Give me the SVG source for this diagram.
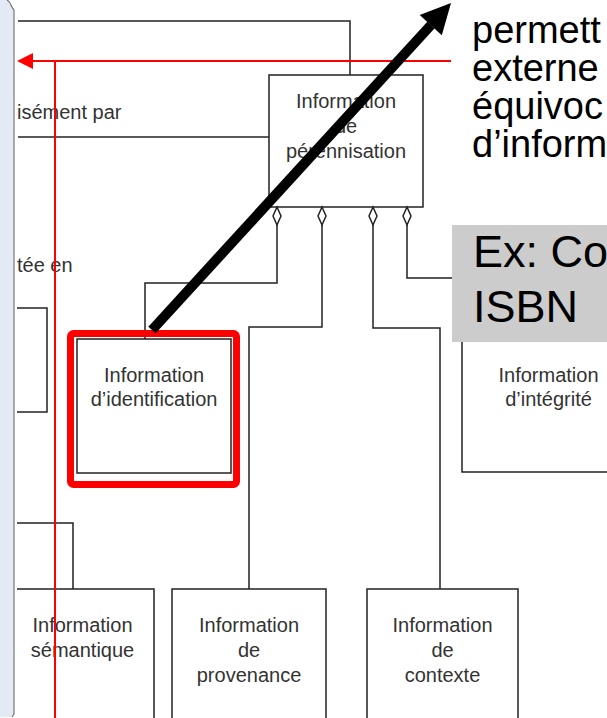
<svg xmlns="http://www.w3.org/2000/svg" width="607" height="718" viewBox="0 0 607 718">
<style>
.ln{fill:none;stroke:#222;stroke-width:1.5}
.bx{fill:#fff;stroke:#222;stroke-width:1.5}
.lbl{font-family:"Liberation Sans",Arial,sans-serif;font-size:20px;fill:#333;text-anchor:middle}
.side{font-family:"Liberation Sans",Arial,sans-serif;font-size:20px;fill:#333}
.big{font-family:"Liberation Sans",Arial,sans-serif;font-size:38px;fill:#000}
.ex{font-family:"Liberation Sans",Arial,sans-serif;font-size:45px;fill:#000}
.red{fill:none;stroke:#ff0000;stroke-width:2}
.dia{fill:#fff;stroke:#222;stroke-width:1.5}
</style>
<rect width="607" height="718" fill="#fff"/>
<g id="connectors">
<path class="ln" d="M18,21 H350 V75"/>
<path class="ln" d="M18,137 H269"/>
<path class="ln" d="M17,308 H47 V412 H17"/>
<path class="ln" d="M17,523 H73 V589"/>
<path class="ln" d="M277,225 V283 H145 V339"/>
<path class="ln" d="M322,225 V327 H249 V589"/>
<path class="ln" d="M373,225 V328 H440 V589"/>
<path class="ln" d="M407,225 V278 H470"/>
</g>
<g id="side-texts">
<text class="side" x="17" y="119">isément par</text>
<text class="side" x="17" y="272">tée en</text>
</g>
<g id="node-perennisation">
<rect class="bx" x="269" y="75" width="154" height="132"/>
<text class="lbl" x="346" y="108">Information</text>
<text class="lbl" x="346" y="133">de</text>
<text class="lbl" x="346" y="158">pérennisation</text>
<path class="dia" d="M277,207 L281,216 L277,225 L273,216 Z"/>
<path class="dia" d="M322,207 L326,216 L322,225 L318,216 Z"/>
<path class="dia" d="M373,207 L377,216 L373,225 L369,216 Z"/>
<path class="dia" d="M407,207 L411,216 L407,225 L403,216 Z"/>
</g>
<g id="node-identification">
<rect class="bx" x="77" y="339" width="154" height="134"/>
<text class="lbl" x="154" y="382">Information</text>
<text class="lbl" x="154" y="406">d’identification</text>
<rect x="70.5" y="333.5" width="166" height="151" rx="3" fill="none" stroke="#ff0000" stroke-width="7"/>
</g>
<g id="node-integrite">
<rect class="bx" x="462" y="335" width="180" height="137"/>
<text class="lbl" x="548.5" y="382">Information</text>
<text class="lbl" x="548.5" y="406">d’intégrité</text>
</g>
<g id="node-semantique">
<path class="ln" d="M17,589 H154 V720"/>
<text class="lbl" x="82.5" y="632">Information</text>
<text class="lbl" x="82.5" y="657">sémantique</text>
</g>
<g id="node-provenance">
<rect class="bx" x="172" y="589" width="154" height="140"/>
<text class="lbl" x="249" y="632">Information</text>
<text class="lbl" x="249" y="657">de</text>
<text class="lbl" x="249" y="682">provenance</text>
</g>
<g id="node-contexte">
<rect class="bx" x="367" y="589" width="151" height="140"/>
<text class="lbl" x="442.5" y="632">Information</text>
<text class="lbl" x="442.5" y="657">de</text>
<text class="lbl" x="442.5" y="682">contexte</text>
</g>
<g id="example-note">
<rect x="452" y="225" width="160" height="117" fill="#cccccc"/>
<text class="ex" x="473" y="267">Ex: Co</text>
<text class="ex" x="473" y="322">ISBN</text>
</g>
<g id="callout-text">
<text class="big" x="472" y="43">permett</text>
<text class="big" x="472" y="81">externe</text>
<text class="big" x="472" y="119">équivoc</text>
<text class="big" x="472" y="157">d’inform</text>
</g>
<g id="red-arrow">
<path class="red" d="M451,61 H30 M55,61 V718"/>
<path d="M17,61 L33,53 L33,69 Z" fill="#ff0000"/>
</g>
<g id="black-arrow">
<path d="M152,330 L431,25" fill="none" stroke="#000" stroke-width="10"/>
<path d="M451,3 L441.8,35.2 L419.7,15 Z" fill="#000"/>
</g>
<g id="side-panel">
<path d="M0,0 H7 Q10,2 11,5 Q12,8 14,10 V714 L12,717 H0 Z" fill="#e4eaf5"/>
<path d="M7,0 Q10,2 11,5 Q12,8 14,10 V714 L12,717" fill="none" stroke="#777" stroke-width="1.2"/>
</g>
</svg>
